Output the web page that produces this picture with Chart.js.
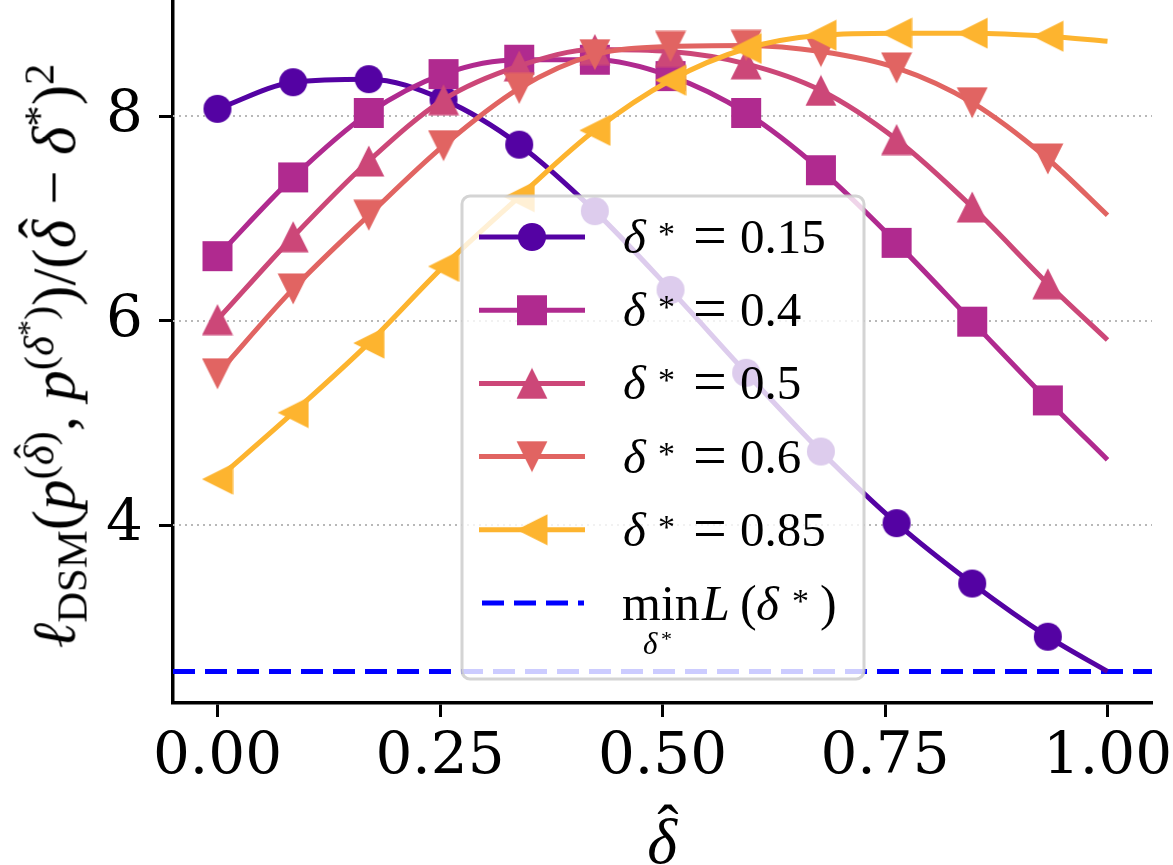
<!DOCTYPE html>
<html>
<head>
<meta charset="UTF-8">
<title>Normalised DSM loss vs delta-hat</title>
<script src="https://cdn.jsdelivr.net/npm/chart.js@4.4.1/dist/chart.umd.min.js"></script>
<style>
  html, body { margin: 0; padding: 0; background: #fff; }
  #wrap { position: relative; width: 1173px; height: 865px; }
  #yTitle {
    position: absolute; left: 54px; top: 356px;
    transform: translate(-50%, -50%) rotate(-90deg);
    font-family: "Liberation Serif", serif; font-size: 61px;
    white-space: nowrap; line-height: 1;
  }
  #xTitle {
    position: absolute; left: 662px; top: 842px;
    transform: translate(-50%, -50%);
    font-family: "Liberation Serif", serif; font-size: 64px;
    line-height: 1;
  }
  .it { font-style: italic; }
  .hat { position: relative; display: inline-block; }
  .hat::after {
    content: 'ˆ'; position: absolute; left: 0.16em; top: -0.22em;
    font-style: normal;
  }
  sub { font-size: 0.7em; vertical-align: -0.28em; line-height: 0; }
  sup { font-size: 0.7em; vertical-align: 0.5em; line-height: 0; }
  sup sup { font-size: 0.75em; vertical-align: 0.45em; }
</style>
</head>
<body>
<div id="wrap">
  <canvas id="lossChart" width="1173" height="865"></canvas>
  <div id="yTitle"><span class="it">ℓ</span><sub>DSM</sub>(<span class="it">p</span><sup>(<span class="it hat">δ</span>)</sup>, <span class="it">p</span><sup>(<span class="it">δ</span><sup>*</sup>)</sup>)/(<span class="it hat">δ</span> − <span class="it">δ</span><sup>*</sup>)<sup>2</sup></div>
  <div id="xTitle"><span class="it hat">δ</span></div>
</div>

<script>
    // values
    const xHat = [0, 0.085, 0.17, 0.254, 0.339, 0.424, 0.509, 0.594, 0.678, 0.763, 0.848, 0.933, 1.0];
    const deltaStar = ['0.15', '0.4', '0.5', '0.6', '0.85'];
    const loss015 = [8.07, 8.33, 8.36, 8.16, 7.72, 7.07, 6.30, 5.49, 4.72, 4.02, 3.43, 2.91, 2.57];
    const loss04  = [6.63, 7.40, 8.03, 8.41, 8.55, 8.55, 8.39, 8.03, 7.47, 6.76, 5.99, 5.22, 4.64];
    const loss05  = [6.01, 6.82, 7.56, 8.16, 8.49, 8.65, 8.63, 8.51, 8.25, 7.77, 7.11, 6.36, 5.81];
    const loss06  = [5.48, 6.31, 7.03, 7.71, 8.27, 8.60, 8.68, 8.69, 8.63, 8.47, 8.13, 7.58, 7.03];
    const loss085 = [4.45, 5.10, 5.78, 6.53, 7.21, 7.86, 8.35, 8.66, 8.79, 8.81, 8.81, 8.78, 8.73];
    const minLoss = 2.57;
    const xLimits = [-0.05, 1.05];
    const yLimits = [2.262, 9.134];
    const xTicks = [0, 0.25, 0.5, 0.75, 1.0];
    const yTicks = [4, 6, 8];

    const series = [loss015, loss04, loss05, loss06, loss085];
    const colors = ['#5402a3', '#b02a8f', '#cc4778', '#e16462', '#fdb42f'];
    const shapes = ['circle', 'square', 'triUp', 'triDown', 'triLeft'];

    // matplotlib-like markers drawn once into small canvases
    function markerCanvas(shape, color) {
        const s = 32, m = s / 2;
        const c = document.createElement('canvas');
        c.width = s; c.height = s;
        const g = c.getContext('2d');
        g.fillStyle = color;
        g.beginPath();
        if (shape === 'circle') {
            g.arc(m, m, 14, 0, Math.PI * 2);
        } else if (shape === 'square') {
            g.rect(1, 1, 30, 30);
        } else if (shape === 'triUp') {
            g.moveTo(m, 0.5); g.lineTo(s - 0.5, s - 0.5); g.lineTo(0.5, s - 0.5);
        } else if (shape === 'triDown') {
            g.moveTo(0.5, 0.5); g.lineTo(s - 0.5, 0.5); g.lineTo(m, s - 0.5);
        } else {
            g.moveTo(0.5, m); g.lineTo(s - 0.5, 0.5); g.lineTo(s - 0.5, s - 0.5);
        }
        g.closePath();
        g.fill();
        return c;
    }
    const markers = shapes.map((sh, i) => markerCanvas(sh, colors[i]));

    const datasets = series.map((vals, i) => ({
        label: 'δ* = ' + deltaStar[i],
        data: xHat.map((x, j) => ({ x: x, y: vals[j] })),
        borderColor: colors[i],
        backgroundColor: colors[i],
        borderWidth: 5,
        pointStyle: markers[i],
        pointRadius: xHat.map((x, j) => j === xHat.length - 1 ? 0 : 14),
        cubicInterpolationMode: 'monotone',
        order: series.length - i
    }));
    datasets.push({
        label: 'min L(δ*)',
        data: [{ x: xLimits[0], y: minLoss }, { x: xLimits[1], y: minLoss }],
        borderColor: '#0000ff',
        borderWidth: 5,
        borderDash: [22, 10],
        pointRadius: 0,
        order: 10
    });

    // dotted horizontal grid lines at the y ticks
    const dottedGrid = {
        id: 'dottedGrid',
        beforeDatasetsDraw(chart) {
            const ctx = chart.ctx, area = chart.chartArea, ys = chart.scales.y;
            ctx.save();
            ctx.strokeStyle = '#b8b8b8';
            ctx.lineWidth = 2;
            ctx.setLineDash([2, 4]);
            yTicks.forEach(v => {
                const y = Math.round(ys.getPixelForValue(v));
                ctx.beginPath();
                ctx.moveTo(area.left, y);
                ctx.lineTo(area.right, y);
                ctx.stroke();
            });
            ctx.restore();
        }
    };

    const serif = '"Liberation Serif", serif';

    function starLabel(ctx, value, x, base) {
        ctx.font = 'italic 49px ' + serif;
        ctx.fillText('δ', x, base);
        ctx.font = '34px ' + serif;
        ctx.fillText('*', x + 35, base - 8);
        ctx.font = '60px ' + serif;
        ctx.fillText('=', x + 70, base + 2);
        ctx.font = '49px ' + serif;
        ctx.fillText(value, x + 117, base);
    }

    // framed legend inside the plot, semi-transparent like matplotlib
    const boxLegend = {
        id: 'boxLegend',
        afterDraw(chart) {
            const ctx = chart.ctx;
            ctx.save();
            ctx.beginPath();
            ctx.roundRect(462, 196, 402, 483, 8);
            ctx.fillStyle = 'rgba(255,255,255,0.8)';
            ctx.fill();
            ctx.lineWidth = 3;
            ctx.strokeStyle = 'rgba(204,204,204,0.85)';
            ctx.stroke();

            ctx.textBaseline = 'alphabetic';
            ctx.textAlign = 'left';
            series.forEach((_, i) => {
                const y = 237 + i * 73.2;
                ctx.beginPath();
                ctx.setLineDash([]);
                ctx.moveTo(479, y);
                ctx.lineTo(585, y);
                ctx.strokeStyle = colors[i];
                ctx.lineWidth = 5;
                ctx.stroke();
                const mk = markers[i];
                ctx.drawImage(mk, 532 - mk.width / 2, y - mk.height / 2);
                ctx.fillStyle = '#000';
                starLabel(ctx, deltaStar[i], 623, y + 16);
            });

            const yd = 237 + 5 * 73.2;
            ctx.beginPath();
            ctx.setLineDash([22, 10]);
            ctx.moveTo(482, yd);
            ctx.lineTo(584, yd);
            ctx.strokeStyle = '#0000ff';
            ctx.lineWidth = 5;
            ctx.stroke();
            ctx.setLineDash([]);

            const b = yd + 17;
            ctx.fillStyle = '#000';
            ctx.font = '50px ' + serif;
            ctx.fillText('min', 622, b);
            ctx.font = 'italic 50px ' + serif;
            ctx.fillText('L', 702, b);
            ctx.font = '50px ' + serif;
            ctx.fillText('(', 740, b);
            ctx.font = 'italic 49px ' + serif;
            ctx.fillText('δ', 756, b);
            ctx.font = '34px ' + serif;
            ctx.fillText('*', 792, b - 8);
            ctx.font = '50px ' + serif;
            ctx.fillText(')', 820, b);
            ctx.font = 'italic 31px ' + serif;
            ctx.fillText('δ', 643, b + 34);
            ctx.font = '22px ' + serif;
            ctx.fillText('*', 661, b + 26);
            ctx.restore();
        }
    };

    const tickFont = { family: 'DejaVu Serif', size: 58 };

    new Chart(document.getElementById('lossChart'), {
        type: 'line',
        data: { datasets: datasets },
        options: {
            responsive: false,
            devicePixelRatio: 1,
            animation: false,
            events: [],
            layout: { padding: 0, autoPadding: false },
            plugins: { legend: { display: false }, tooltip: { enabled: false } },
            scales: {
                x: {
                    type: 'linear',
                    min: xLimits[0],
                    max: xLimits[1],
                    afterBuildTicks: s => { s.ticks = xTicks.map(v => ({ value: v })); },
                    afterFit: s => { s.height = 162; s.paddingLeft = 0; s.paddingRight = 21; },
                    ticks: {
                        callback: v => v.toFixed(2),
                        font: tickFont, color: '#000', padding: 6,
                        maxRotation: 0, autoSkip: false
                    },
                    grid: { drawOnChartArea: false, drawTicks: true, tickLength: 14, tickWidth: 3, tickColor: '#000' },
                    border: { display: true, color: '#000', width: 3.5 }
                },
                y: {
                    type: 'linear',
                    min: yLimits[0],
                    max: yLimits[1],
                    afterBuildTicks: s => { s.ticks = yTicks.map(v => ({ value: v })); },
                    afterFit: s => { s.width = 173; s.paddingTop = 0; s.paddingBottom = 0; },
                    ticks: {
                        callback: v => String(v),
                        font: tickFont, color: '#000', padding: 16
                    },
                    grid: { drawOnChartArea: false, drawTicks: true, tickLength: 14, tickWidth: 3, tickColor: '#000' },
                    border: { display: true, color: '#000', width: 3.5 }
                }
            }
        },
        plugins: [dottedGrid, boxLegend]
    });
</script>
</body>
</html>
